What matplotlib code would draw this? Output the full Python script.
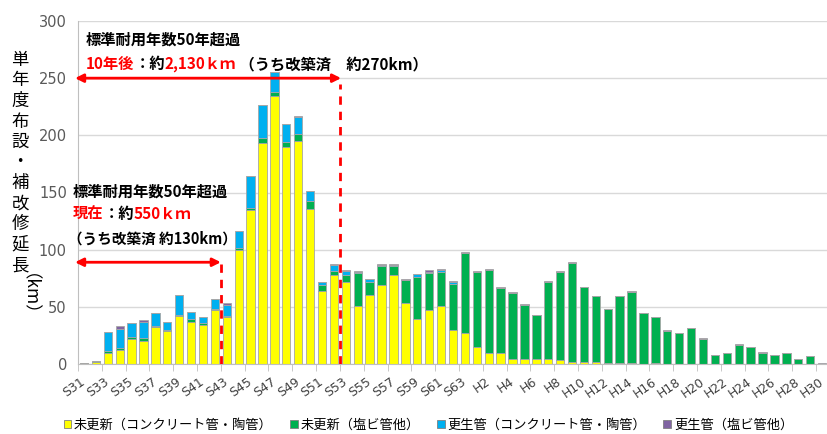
import matplotlib
matplotlib.use("Agg")
import matplotlib.pyplot as plt
from matplotlib.patches import Patch
import numpy as np

plt.rcParams['font.family'] = ['Noto Sans CJK JP', 'DejaVu Sans']

# fiscal years S31..S63, H1..H30
cats = ["S%d" % n for n in range(31, 64)] + ["H%d" % n for n in range(1, 31)]

# km per year
old_concrete = [1, 2, 10, 12, 22, 20.5, 32, 29, 42, 37, 34, 47, 41,
                100, 134.5, 193.6, 234.5, 190, 195.3, 136, 64, 78, 72,
                51, 60, 69, 77.5, 53, 39.5, 47.5, 51, 30, 27,
                15, 9.5, 10, 4, 4, 4, 4.7, 3.5, 1.5, 1.5, 1.5, 0.6, 0.9, 0.8,
                0.2, 0.5, 0, 0, 0, 0, 0, 0, 0, 0, 0, 0, 0, 0, 0, 0]
old_pvc = [0, 0.5, 1, 2, 1.5, 2.5, 1.5, 1, 1, 2, 1.5, 1, 1,
           1.5, 2.3, 4.4, 3.8, 4.4, 5.6, 6.7, 5, 3.5, 6,
           28.5, 12, 16.5, 8.5, 20.5, 37, 32, 29.5, 40, 70,
           65.5, 73, 56.5, 58.5, 48, 38.5, 67, 77, 87, 65.7, 58, 47.7, 58.3, 62.4,
           44.6, 40.8, 29.3, 27, 31.4, 22.3, 7.7, 9.4, 17, 14.7, 10, 8, 9.7, 4.5, 6.8, 0.3]
lined_concrete = [0, 0, 17, 17, 12.5, 14, 11, 7, 17, 6.5, 6, 9, 10,
                  14.5, 27.5, 28.6, 17, 15.8, 15.5, 8.5, 2.5, 5.5, 3,
                  1, 2, 1.5, 1, 0, 2, 1, 2, 2, 0,
                  0, 0, 0, 0, 0, 0, 0, 0, 0, 0, 0, 0, 0, 0,
                  0, 0, 0, 0, 0, 0, 0, 0, 0, 0, 0, 0, 0, 0, 0, 0]
lined_pvc = [0, 0.5, 0, 2, 0, 1.3, 0.5, 0, 0, 0, 0, 0, 1,
             0, 0, 0.3, 0.3, 0, 0.3, 0.3, 0.5, 0.5, 1,
             0.5, 0.5, 0.5, 0.5, 0.5, 0.5, 2, 0.5, 0.5, 1,
             0.5, 0.5, 0.5, 0.5, 0.5, 0.5, 0.5, 0.5, 0.3, 0.3, 0.2, 0.2, 0.2, 0.5,
             0.2, 0.2, 0.2, 0.2, 0, 0.2, 0.2, 0.2, 0.5, 0.2, 0.2, 0.2, 0.2, 0.2, 0.2, 0.3]

series = [old_concrete, old_pvc, lined_concrete, lined_pvc]
names = ["未更新（コンクリート管・陶管）", "未更新（塩ビ管他）",
         "更生管（コンクリート管・陶管）", "更生管（塩ビ管他）"]
colors = ["#FFFF00", "#00B050", "#00B0F0", "#8064A2"]

W, H = 827, 434
fig = plt.figure(figsize=(W / 100, H / 100), dpi=100)
ax = fig.add_axes([78 / W, 1 - 364 / H, 750 / W, 343 / H])

x = np.arange(len(cats))
bottom = np.zeros(len(cats))
for vals, col in zip(series, colors):
    vals = np.array(vals, dtype=float)
    ax.bar(x, vals, 0.7, bottom=bottom, color=col, edgecolor="#a6a6a6", linewidth=0.6, zorder=2)
    bottom += vals

ax.set_xlim(-0.5, 62.5)
ax.set_ylim(0, 300)
ax.set_yticks(range(0, 301, 50))
ax.yaxis.grid(True, color="#d9d9d9", lw=1)
ax.set_axisbelow(True)
for s in ["top", "right"]:
    ax.spines[s].set_visible(False)
ax.spines["left"].set_color("#bfbfbf")
ax.spines["bottom"].set_color("#bfbfbf")
ax.tick_params(axis="y", length=0, pad=8, labelsize=10.5, labelcolor="#595959")
for t in ax.get_yticklabels():
    t.set_fontfamily("DejaVu Sans")

ax.set_xticks(x[::2])
ax.set_xticklabels(cats[::2], rotation=35, ha="right", va="center",
                   rotation_mode="anchor", fontsize=9, color="#404040", family="DejaVu Sans")
ax.tick_params(axis="x", which="major", length=0, pad=12)
ax.set_xticks(np.arange(-0.5, 62.5, 2), minor=True)
ax.tick_params(axis="x", which="minor", length=5, color="#bfbfbf")

# red markers
arrow = dict(arrowstyle="<|-|>", color="red", lw=2, mutation_scale=12, shrinkA=0, shrinkB=0)
ax.annotate("", xy=(11.5, 89), xytext=(-0.75, 89), arrowprops=arrow, annotation_clip=False)
ax.annotate("", xy=(21.6, 250), xytext=(-0.75, 250), arrowprops=arrow, annotation_clip=False)
ax.plot([11.5, 11.5], [0, 89], color="red", lw=2, ls=(0, (3, 2.5)), zorder=3)
ax.plot([21.5, 21.5], [0, 245], color="red", lw=2, ls=(0, (3, 2.5)), zorder=3)


def write(px, py, parts, size=11):
    # coloured runs of bold text, one after another on a line
    t = fig.text(px / W, 1 - py / H, parts[0][0], color=parts[0][1], fontsize=size,
                 weight="bold", va="center", ha="left")
    for s, c in parts[1:]:
        t = ax.annotate(s, xy=(1, 0), xycoords=t, va="bottom", ha="left",
                        color=c, fontsize=size, weight="bold", annotation_clip=False)


write(86, 40, [("標準耐用年数50年超過", "black")])
write(86, 64, [("10年後", "red"), ("：約", "black"), ("2,130ｋｍ", "red"),
               (" （うち改築済　約270km）", "black")])
write(73, 192, [("標準耐用年数50年超過", "black")])
write(73, 214, [("現在", "red"), ("：約", "black"), ("550ｋｍ", "red")])
write(68, 239, [("（うち改築済 約130km）", "black")], size=10.5)

# vertical y label
for i, ch in enumerate("単年度布設・補改修延長"):
    fig.text(20 / W, 1 - (60 + i * 20.5) / H, ch, fontsize=12.5, ha="center", va="center")
fig.text(20 / W, 1 - 303 / H, "（km）", fontsize=12.5, rotation=-90, ha="center", va="center")

handles = [Patch(facecolor=c, edgecolor="#808080", linewidth=0.6) for c in colors]
fig.legend(handles, names, loc="center", bbox_to_anchor=(0.518, 1 - 425 / H), ncol=4,
           frameon=False, fontsize=9.5, handlelength=0.6, handleheight=0.6,
           handletextpad=0.2, columnspacing=1.3)

fig.savefig("out.png", dpi=100)
